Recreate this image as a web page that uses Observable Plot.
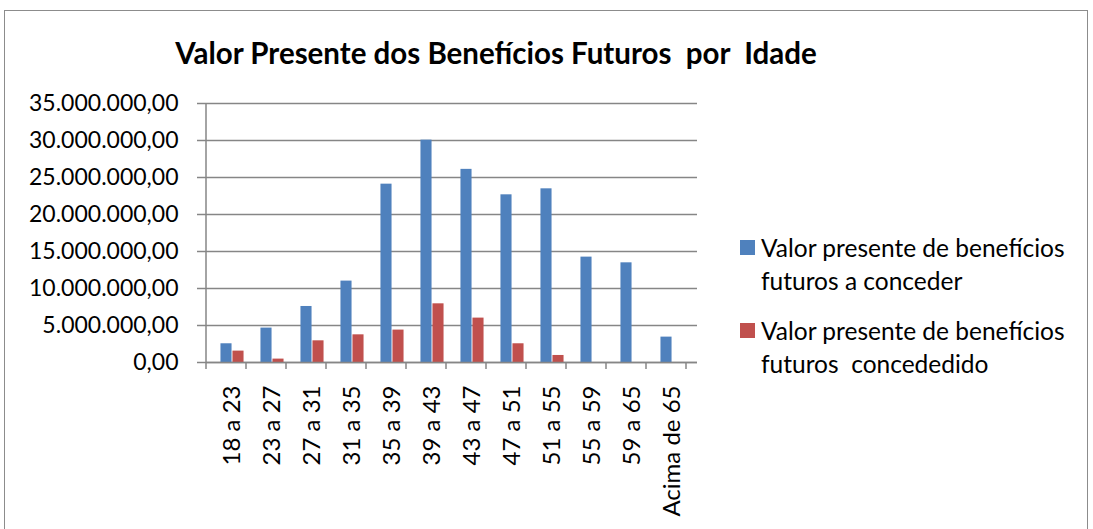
<!DOCTYPE html>
<html>
<head>
<meta charset="utf-8">
<script src="https://cdn.jsdelivr.net/npm/d3@7"></script>
<script src="https://cdn.jsdelivr.net/npm/@observablehq/plot@0.6"></script>
<style>
  html, body { margin: 0; padding: 0; background: #fff; }
  #wrap { position: relative; width: 1093px; height: 529px; overflow: hidden; font-family: Lato, sans-serif; color: #000; }
  #border { position: absolute; left: 4px; top: 10px; width: 1084px; height: 540px; border: 1.5px solid #8c8c8c; box-sizing: border-box; }
  #chart { position: absolute; left: 0; top: 0; }
  #title { position: absolute; left: 0; top: 35px; width: 992px; text-align: center; font-weight: bold; font-size: 29.5px; line-height: 36px; white-space: pre; }
  #legend { position: absolute; left: 740px; top: 231px; }
  .item { display: flex; align-items: flex-start; margin-bottom: 17px; }
  .sw { width: 15px; height: 15px; margin-right: 6px; margin-top: 9px; flex: none; }
  .lbl { font-size: 24.5px; line-height: 33px; width: 330px; white-space: pre-wrap; }
</style>
</head>
<body>
<div id="wrap">
  <div id="border"></div>
  <div id="chart"></div>
  <div id="title"></div>
  <div id="legend"></div>
</div>
<script>
const titleText = "Valor Presente dos Benefícios Futuros  por  Idade";
const categories = ["18 a 23","23 a 27","27 a 31","31 a 35","35 a 39","39 a 43","43 a 47","47 a 51","51 a 55","55 a 59","59 a 65","Acima de 65"];
const aConceder = [2530000, 4650000, 7570000, 11000000, 24100000, 30050000, 26100000, 22660000, 23470000, 14240000, 13470000, 3430000];
const concedido = [1540000, 460000, 2930000, 3740000, 4380000, 7930000, 6000000, 2530000, 950000, 0, 0, 0];
const seriesNames = ["Valor presente de benefícios futuros a conceder", "Valor presente de benefícios futuros  concededido"];
const seriesColors = ["#4F81BD", "#C0504D"];
const yTicks = [0, 5000000, 10000000, 15000000, 20000000, 25000000, 30000000, 35000000];

const ptBR = d3.formatLocale({decimal: ",", thousands: ".", grouping: [3], currency: ["R$", ""]});
const fmt = ptBR.format(",.2f");

const blueData = categories.map((c, i) => ({cat: c, v: aConceder[i]}));
const redData = categories.map((c, i) => ({cat: c, v: concedido[i]})).filter(d => d.v > 0);

const W = 1093, H = 529;
const mL = 206, mR = 396, mT = 103, mB = 167;
const step = (W - mL - mR) / categories.length;
const barW = 12;
const outer = (step - 2 * barW) / 2;
const gray = "#868686";

const chart = Plot.plot({
  width: W, height: H,
  marginLeft: mL, marginRight: mR, marginTop: mT, marginBottom: mB,
  style: {fontFamily: "Lato, sans-serif", fontSize: "23px", color: "#000", background: "transparent"},
  x: {type: "band", domain: categories, padding: 0, label: null},
  y: {domain: [0, 35000000], label: null},
  marks: [
    Plot.ruleY(yTicks, {stroke: gray, strokeWidth: 1.5}),
    Plot.axisY({ticks: yTicks, tickFormat: fmt, tickSize: 9, tickPadding: 19, stroke: gray, strokeWidth: 1.5, fontSize: 23, label: null}),
    Plot.barY(blueData, {x: "cat", y: "v", fill: seriesColors[0], insetLeft: outer, insetRight: step - outer - barW}),
    Plot.barY(redData, {x: "cat", y: "v", fill: seriesColors[1], insetLeft: outer + barW, insetRight: outer}),
    Plot.ruleY([0], {stroke: gray, strokeWidth: 1.5}),
    Plot.axisX({tickSize: 0, tickPadding: 23, tickRotate: -90, fontSize: 24, label: null})
  ]
});
document.getElementById("chart").appendChild(chart);

// axis line on left and category-boundary ticks on the bottom, from the scales
const xs = chart.scale("x"), ys = chart.scale("y");
const svg = d3.select(chart);
const y0 = ys.apply(0), yTop = ys.apply(35000000);
const xStart = xs.range[0];
svg.append("line").attr("x1", xStart).attr("x2", xStart).attr("y1", yTop).attr("y2", y0)
  .attr("stroke", gray).attr("stroke-width", 1.5);
for (let i = 0; i <= categories.length; i++) {
  const x = xStart + i * xs.step;
  svg.append("line").attr("x1", x).attr("x2", x).attr("y1", y0).attr("y2", y0 + 7)
    .attr("stroke", gray).attr("stroke-width", 1.5);
}

document.getElementById("title").textContent = titleText;
const legend = document.getElementById("legend");
seriesNames.forEach((n, i) => {
  const item = document.createElement("div");
  item.className = "item";
  const sw = document.createElement("div");
  sw.className = "sw"; sw.style.background = seriesColors[i];
  const lbl = document.createElement("div");
  lbl.className = "lbl"; lbl.textContent = n;
  item.appendChild(sw); item.appendChild(lbl);
  legend.appendChild(item);
});
</script>
</body>
</html>
